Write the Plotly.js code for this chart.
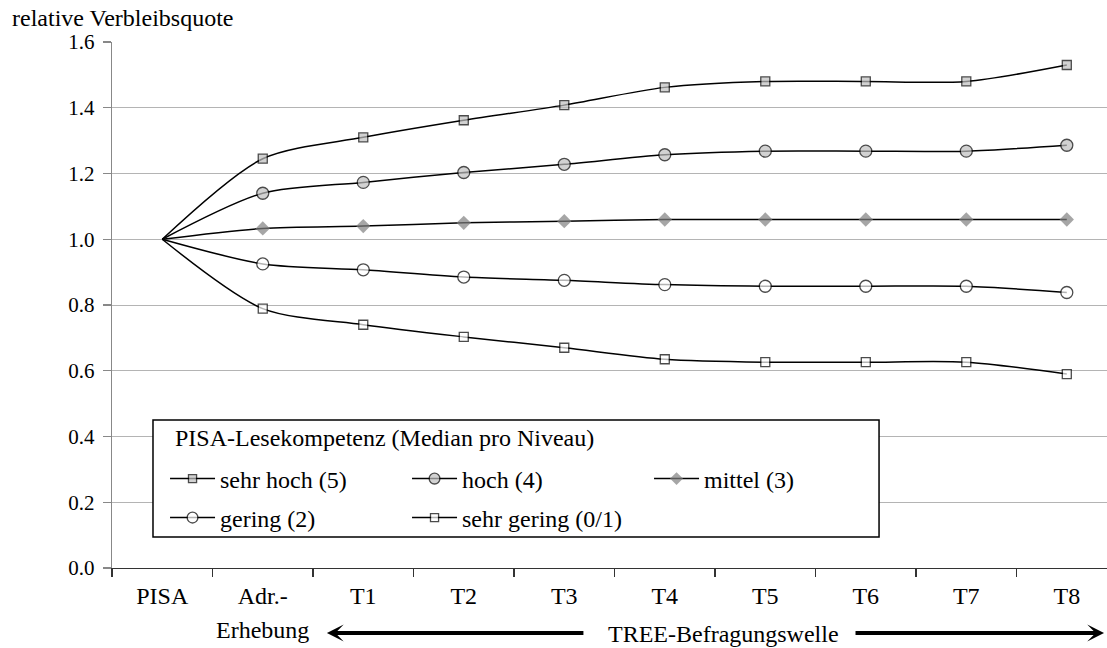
<!DOCTYPE html>
<html>
<head>
<meta charset="utf-8">
<script src="https://cdn.plot.ly/plotly-3.0.1.min.js"></script>
<style>html,body{margin:0;padding:0;background:#fff}#chart{width:1107px;height:648px}</style>
</head>
<body>
<div id="chart"></div>
<script>
var categories = ['PISA', 'Adr.-', 'T1', 'T2', 'T3', 'T4', 'T5', 'T6', 'T7', 'T8'];
var sehrHoch   = [1.000, 1.245, 1.310, 1.362, 1.408, 1.462, 1.480, 1.480, 1.480, 1.530];
var hoch       = [1.000, 1.140, 1.173, 1.203, 1.228, 1.257, 1.268, 1.268, 1.268, 1.286];
var mittel     = [1.000, 1.033, 1.040, 1.050, 1.055, 1.060, 1.060, 1.060, 1.060, 1.060];
var gering     = [1.000, 0.925, 0.907, 0.885, 0.875, 0.862, 0.857, 0.857, 0.857, 0.838];
var sehrGering = [1.000, 0.789, 0.740, 0.703, 0.670, 0.635, 0.626, 0.626, 0.626, 0.590];
var seriesNames = ['sehr hoch (5)', 'hoch (4)', 'mittel (3)', 'gering (2)', 'sehr gering (0/1)'];
var legendTitle = 'PISA-Lesekompetenz (Median pro Niveau)';
var yTickVals = [0, 0.2, 0.4, 0.6, 0.8, 1.0, 1.2, 1.4, 1.6];
var yTickText = ['0.0', '0.2', '0.4', '0.6', '0.8', '1.0', '1.2', '1.4', '1.6'];

var FONT = 'Liberation Serif';

function sizes(s) { return categories.map(function (c, i) { return i === 0 ? 0 : s; }); }

function mk(name, y, symbol, size, fill, lineW, legendId) {
  return {
    type: 'scatter', mode: 'lines+markers', name: name, legend: legendId,
    x: categories, y: y,
    line: {color: '#000', width: 1.5, shape: 'spline', smoothing: 0.8},
    marker: {symbol: symbol, size: sizes(size), color: fill,
             line: {color: '#000', width: lineW}},
    cliponaxis: false
  };
}

var traces = [
  mk(seriesNames[0], sehrHoch, 'square', 9, '#c0c0c0', 1.3, 'legend'),
  mk(seriesNames[1], hoch, 'circle', 12, '#c0c0c0', 1.3, 'legend'),
  mk(seriesNames[2], mittel, 'diamond', 11, '#808080', 0, 'legend'),
  mk(seriesNames[3], gering, 'circle', 12, '#ffffff', 1.3, 'legend2'),
  mk(seriesNames[4], sehrGering, 'square', 9, '#ffffff', 1.3, 'legend2')
];

function legendRow(yPaper) {
  return {
    orientation: 'h', x: 0.0533, xanchor: 'left', y: yPaper, yanchor: 'middle',
    bgcolor: 'rgba(0,0,0,0)', borderwidth: 0,
    font: {family: FONT, size: 24, color: '#000'},
    entrywidth: 182, entrywidthmode: 'pixels', itemwidth: 45,
    traceorder: 'normal'
  };
}

var layout = {
  width: 1107, height: 648,
  margin: {l: 112, r: 0, t: 42, b: 80},
  paper_bgcolor: '#fff', plot_bgcolor: '#fff',
  font: {family: FONT, size: 24, color: '#000'},
  showlegend: true,
  xaxis: {
    type: 'category', range: [-0.5, 9.4],
    showgrid: false, zeroline: false,
    showline: true, linecolor: '#333', linewidth: 1.3,
    ticks: 'outside', tickson: 'boundaries', ticklen: 8, tickcolor: '#333', tickwidth: 1.3,
    tickfont: {family: FONT, size: 24, color: '#000'},
    ticklabelstandoff: 6
  },
  yaxis: {
    range: [0, 1.6], tickvals: yTickVals, ticktext: yTickText,
    showgrid: true, gridcolor: '#b4b4b4', gridwidth: 1,
    zeroline: false,
    showline: true, linecolor: '#888', linewidth: 1.3,
    ticks: 'outside', ticklen: 8, tickcolor: '#888', tickwidth: 1.3,
    tickfont: {family: FONT, size: 21, color: '#000'},
    ticklabelstandoff: 4
  },
  legend: legendRow(0.1692),
  legend2: legendRow(0.0951),
  shapes: [
    {type: 'rect', xref: 'paper', yref: 'paper', x0: 0.0412, x1: 0.7709, y0: 0.0589, y1: 0.2814,
     line: {color: '#000', width: 1.5}, fillcolor: '#fff', layer: 'above'}
  ],
  annotations: [
    {xref: 'paper', yref: 'paper', x: -0.103, y: 1.045, xanchor: 'left', yanchor: 'middle',
     text: 'relative Verbleibsquote', showarrow: false, font: {family: FONT, size: 24}},
    {xref: 'paper', yref: 'paper', x: 0.0613, y: 0.2471, xanchor: 'left', yanchor: 'middle',
     text: legendTitle, showarrow: false, font: {family: FONT, size: 24}},
    {xref: 'x', yref: 'paper', x: 1, y: -0.118, xanchor: 'center', yanchor: 'middle',
     text: 'Erhebung', showarrow: false, font: {family: FONT, size: 24}},
    {xref: 'x', yref: 'paper', x: 5.58, y: -0.125, xanchor: 'center', yanchor: 'middle',
     text: 'TREE-Befragungswelle', showarrow: false, font: {family: FONT, size: 24}},
    {xref: 'paper', yref: 'paper', x: 0.216, y: -0.1236, text: '', showarrow: true,
     axref: 'pixel', ayref: 'pixel', ax: 258, ay: 0,
     arrowhead: 3, arrowsize: 0.7, arrowwidth: 4, arrowcolor: '#000'},
    {xref: 'paper', yref: 'paper', x: 0.997, y: -0.1236, text: '', showarrow: true,
     axref: 'pixel', ayref: 'pixel', ax: -250, ay: 0,
     arrowhead: 3, arrowsize: 0.7, arrowwidth: 4, arrowcolor: '#000'}
  ]
};

Plotly.newPlot('chart', traces, layout, {displayModeBar: false, staticPlot: true});
</script>
</body>
</html>
